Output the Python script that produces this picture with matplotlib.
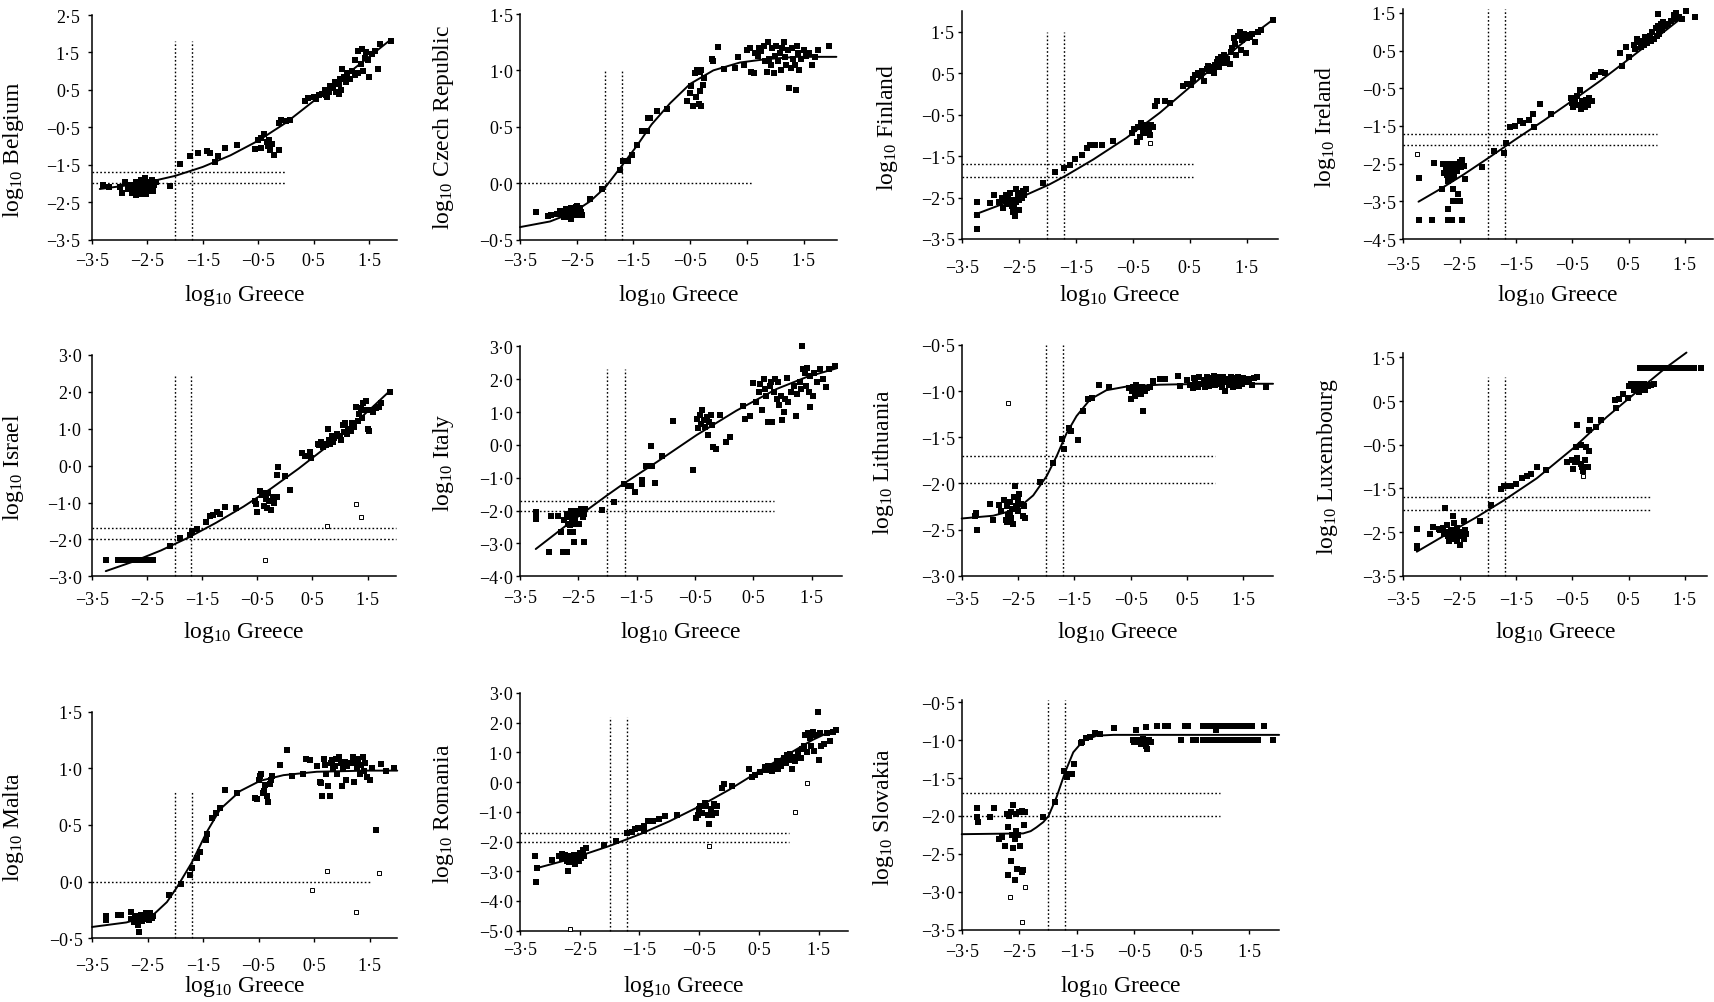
import matplotlib
matplotlib.use("Agg")
import matplotlib.pyplot as plt
from matplotlib.ticker import FuncFormatter, FixedLocator

plt.rcParams['font.family'] = ['Liberation Serif', 'DejaVu Serif']
plt.rcParams['mathtext.fontset'] = 'custom'
plt.rcParams['mathtext.rm'] = 'Liberation Serif'
plt.rcParams['mathtext.it'] = 'Liberation Serif:italic'
plt.rcParams['mathtext.bf'] = 'Liberation Serif:bold'

# ---------------------------------------------------------------- data
X_LABEL = "Greece"
X_TICKS = [-3.5, -2.5, -1.5, -0.5, 0.5, 1.5]
GUIDE_X = [-2.0, -1.7]

BELGIUM_PTS = [(-3.3,-2.05),(-3.2,-2.1),(-3.0,-2.1),(-2.95,-2.25),(-2.9,-1.95),(-2.85,-2.15),(-2.8,-2.05),(-2.78,-2.25),(-2.75,-2.2),(-2.72,-2.05),
 (-2.7,-1.95),(-2.7,-2.3),(-2.68,-2.15),(-2.65,-2.1),(-2.63,-2.28),(-2.62,-1.9),(-2.6,-2.0),(-2.6,-2.25),(-2.58,-2.15),(-2.55,-1.85),
 (-2.55,-2.05),(-2.52,-2.28),(-2.5,-2.2),(-2.5,-1.95),(-2.48,-2.1),(-2.45,-2.0),(-2.42,-1.9),(-2.4,-2.2),(-2.38,-2.05),(-2.35,-1.95),
 (-2.09,-2.08),(-1.91,-1.47),(-1.73,-1.26),(-1.58,-1.19),(-1.43,-1.14),(-1.37,-1.19),(-1.22,-1.28),(-1.28,-1.44),(-1.1,-1.05),(-0.89,-0.98),
 (-0.56,-1.08),(-0.5,-0.85),(-0.45,-0.8),(-0.45,-1.05),(-0.4,-0.68),(-0.35,-0.9),(-0.32,-1.0),(-0.3,-0.85),(-0.28,-1.1),(-0.25,-0.95),(-0.21,-1.23),(-0.12,-1.1),
 (-0.12,-0.38),(-0.08,-0.3),(0.0,-0.33),(0.07,-0.3),
 (0.35,0.2),(0.4,0.28),(0.5,0.3),(0.55,0.25),(0.6,0.35),(0.65,0.4),(0.7,0.5),(0.72,0.35),(0.75,0.3),(0.78,0.45),
 (0.8,0.6),(0.85,0.55),(0.88,0.7),(0.9,0.45),(0.95,0.65),(0.95,0.4),(0.98,0.8),(1.0,0.5),(1.02,1.05),(1.05,0.85),
 (1.08,0.7),(1.1,0.95),(1.15,0.8),(1.2,1.0),(1.25,0.9),(1.25,1.3),(1.3,1.55),(1.3,0.95),(1.35,1.2),(1.38,1.6),
 (1.4,1.0),(1.42,1.35),(1.45,1.5),(1.48,1.3),(1.5,0.85),(1.55,1.45),(1.6,1.55),(1.67,1.07),(1.7,1.72),(1.89,1.81)]
BELGIUM_OPEN = []
BELGIUM_FIT = [(-3.36,-2.15),(-3.0,-2.08),(-2.5,-1.97),(-2.0,-1.8),(-1.5,-1.56),(-1.0,-1.25),(-0.5,-0.86),(0.0,-0.38),(0.5,0.2),(1.0,0.8),(1.5,1.38),(1.89,1.84)]
BELGIUM_YTICKS = [-3.5, -2.5, -1.5, -0.5, 0.5, 1.5, 2.5]

CZECH_PTS = [(-3.22,-0.26),
 (-3.0,-0.29),(-2.95,-0.28),(-2.85,-0.27),(-2.8,-0.25),(-2.75,-0.28),(-2.7,-0.26),(-2.68,-0.23),(-2.65,-0.3),(-2.62,-0.25),(-2.6,-0.22),(-2.58,-0.27),(-2.55,-0.24),(-2.52,-0.21),(-2.5,-0.28),(-2.48,-0.25),(-2.45,-0.22),(-2.42,-0.26),(-2.4,-0.28),(-2.6,-0.32),(-2.72,-0.3),(-2.5,-0.2),
 (-2.26,-0.14),(-2.06,-0.05),
 (-1.74,0.12),(-1.68,0.2),(-1.59,0.2),(-1.53,0.25),(-1.44,0.34),(-1.35,0.46),(-1.26,0.46),(-1.24,0.58),(-1.21,0.58),(-1.09,0.64),(-0.9,0.66),
 (-0.55,0.73),(-0.5,0.8),(-0.48,0.86),(-0.45,0.68),(-0.42,0.98),(-0.4,0.76),(-0.38,1.0),(-0.35,0.7),(-0.33,0.82),(-0.3,0.68),(-0.32,0.99),(-0.28,0.87),(-0.25,0.93),(-0.3,1.0),
 (-0.12,1.1),(-0.09,1.08),(0.0,1.21),(0.09,1.01),
 (0.3,1.02),(0.35,1.12),(0.45,1.05),(0.5,1.18),(0.55,1.2),(0.58,0.99),(0.62,0.98),(0.65,1.15),(0.7,1.13),(0.72,1.2),(0.75,1.17),(0.8,1.22),(0.82,1.08),(0.85,0.99),(0.88,1.25),(0.9,1.1),(0.92,1.05),(0.95,1.2),(0.98,0.98),(1.0,1.13),(1.02,1.22),(1.05,1.08),(1.08,1.15),(1.1,1.0),(1.12,1.2),(1.15,1.25),(1.18,1.12),(1.2,1.05),(1.22,1.18),(1.25,0.84),(1.28,1.02),(1.3,1.2),(1.36,0.83),(1.32,1.1),(1.35,1.05),(1.38,1.22),(1.4,1.15),(1.42,1.0),(1.45,1.1),(1.5,1.18),(1.55,1.13),(1.6,1.15),(1.65,1.05),(1.7,1.12),(1.75,1.18),(1.95,1.22)]
CZECH_OPEN = []
CZECH_FIT = [(-3.5,-0.39),(-2.97,-0.34),(-2.56,-0.26),(-2.26,-0.16),(-2.0,-0.04),(-1.71,0.15),(-1.44,0.33),(-1.18,0.52),(-0.85,0.71),(-0.5,0.88),(-0.09,1.0),(0.38,1.07),(0.85,1.1),(1.38,1.12),(2.08,1.12)]
CZECH_YTICKS = [-0.5, 0.0, 0.5, 1.0, 1.5]

FINLAND_PTS = [(-3.24,-2.61),(-3.24,-2.91),(-3.23,-3.27),(-3.0,-2.63),(-2.94,-2.43),
 (-2.85,-2.6),(-2.8,-2.5),(-2.78,-2.75),(-2.75,-2.55),(-2.72,-2.45),(-2.7,-2.65),(-2.68,-2.5),(-2.65,-2.4),(-2.62,-2.7),(-2.6,-2.55),(-2.6,-2.85),(-2.57,-2.95),(-2.55,-2.3),(-2.55,-2.6),(-2.52,-2.45),(-2.5,-2.8),(-2.5,-2.55),(-2.47,-2.4),(-2.45,-2.5),(-2.42,-2.35),(-2.4,-2.45),(-2.38,-2.3),(-2.65,-2.6),(-2.58,-2.75),
 (-2.07,-2.15),(-1.86,-1.89),(-1.7,-1.78),(-1.6,-1.72),(-1.51,-1.58),(-1.39,-1.48),(-1.31,-1.3),(-1.25,-1.24),(-1.16,-1.23),(-1.04,-1.23),(-0.84,-1.14),
 (-0.52,-0.94),(-0.48,-0.85),(-0.43,-1.16),(-0.4,-0.8),(-0.38,-1.05),(-0.35,-0.7),(-0.32,-0.9),(-0.3,-0.8),(-0.28,-0.95),(-0.25,-0.75),(-0.22,-0.85),(-0.2,-1.0),(-0.18,-0.75),(-0.15,-0.8),
 (-0.11,-0.29),(-0.08,-0.17),(0.07,-0.17),(0.15,-0.21),
 (0.39,0.2),(0.45,0.25),(0.52,0.22),
 (0.55,0.35),(0.6,0.45),(0.65,0.5),(0.7,0.42),(0.72,0.55),(0.75,0.3),(0.8,0.6),(0.82,0.68),(0.85,0.55),(0.88,0.65),(0.9,0.6),(0.92,0.5),(0.95,0.7),(0.98,0.78),(1.0,0.85),(1.02,0.65),(1.05,0.9),(1.08,0.8),(1.1,0.95),(1.12,0.75),(1.15,0.85),(1.2,0.72),(1.22,1.0),(1.25,1.1),(1.28,1.35),(1.3,1.2),(1.32,0.95),(1.35,1.4),(1.38,1.5),(1.4,1.05),(1.42,1.3),(1.45,1.45),(1.48,0.98),(1.5,1.35),(1.52,1.42),(1.55,1.38),(1.6,1.45),(1.65,1.25),(1.7,1.5),(1.75,1.55),(1.97,1.79)]
FINLAND_OPEN = [(-0.2,-1.19)]
FINLAND_FIT = [(-3.27,-2.91),(-2.77,-2.65),(-2.36,-2.43),(-1.97,-2.19),(-1.67,-1.97),(-1.19,-1.58),(-0.61,-1.06),(-0.02,-0.45),(0.56,0.23),(1.15,0.92),(1.62,1.44),(1.97,1.8)]
FINLAND_YTICKS = [-3.5, -2.5, -1.5, -0.5, 0.5, 1.5]

IRELAND_PTS = [(-3.23,-2.87),(-3.23,-4.0),(-2.99,-4.0),(-2.7,-4.0),(-2.64,-4.0),(-2.46,-4.0),
 (-2.95,-2.48),(-2.82,-3.16),(-2.7,-3.7),(-2.61,-3.5),(-2.55,-3.5),(-2.49,-3.5),(-2.52,-3.3),(-2.61,-3.16),
 (-2.8,-2.5),(-2.75,-2.6),(-2.72,-2.8),(-2.7,-2.5),(-2.68,-2.7),(-2.65,-2.9),(-2.65,-2.55),(-2.62,-2.75),(-2.6,-2.5),(-2.6,-2.85),(-2.58,-2.65),(-2.55,-2.7),(-2.52,-2.5),(-2.5,-2.45),(-2.48,-2.6),(-2.45,-2.4),(-2.42,-2.55),(-2.4,-2.9),(-2.7,-2.95),(-2.78,-2.75),
 (-2.11,-2.59),(-1.89,-2.16),(-1.72,-2.23),(-1.68,-1.96),
 (-1.61,-1.54),(-1.52,-1.5),(-1.43,-1.37),(-1.37,-1.41),(-1.26,-1.34),(-1.2,-1.19),(-1.17,-1.54),(-1.07,-0.92),(-0.88,-1.19),
 (-0.52,-0.75),(-0.5,-0.9),(-0.48,-1.0),(-0.45,-0.8),(-0.42,-0.7),(-0.4,-0.95),(-0.36,-0.54),(-0.35,-1.05),(-0.32,-0.85),(-0.3,-0.9),(-0.28,-1.0),(-0.25,-0.8),(-0.22,-0.95),(-0.2,-0.75),(-0.15,-0.85),
 (-0.13,-0.21),(-0.1,-0.15),(0.02,-0.06),(0.08,-0.1),
 (0.35,0.45),(0.38,0.1),(0.46,0.59),(0.51,0.32),
 (0.6,0.65),(0.62,0.55),(0.65,0.8),(0.7,0.72),(0.72,0.6),(0.75,0.75),(0.78,0.65),(0.8,0.85),(0.82,0.7),(0.85,0.8),(0.88,0.9),(0.9,0.75),(0.92,1.0),(0.95,0.82),(0.98,1.1),(1.0,0.9),(1.02,1.15),(1.05,0.95),(1.03,1.47),(1.08,1.2),(1.1,1.05),(1.12,1.25),(1.15,1.15),(1.2,1.2),(1.25,1.3),(1.3,1.45),(1.32,1.35),(1.35,1.5),(1.4,1.4),(1.45,1.35),(1.53,1.54),(1.68,1.38)]
IRELAND_OPEN = [(-3.26,-2.25)]
IRELAND_FIT = [(-3.23,-3.51),(-2.85,-3.18),(-2.43,-2.79),(-1.98,-2.34),(-1.5,-1.85),(-1.0,-1.35),(-0.5,-0.83),(0.0,-0.3),(0.5,0.27),(1.0,0.85),(1.47,1.4)]
IRELAND_YTICKS = [-4.5, -3.5, -2.5, -1.5, -0.5, 0.5, 1.5]

ISRAEL_PTS = [(-3.25,-2.57),(-3.02,-2.57),(-2.95,-2.57),(-2.88,-2.57),(-2.8,-2.57),(-2.75,-2.57),(-2.7,-2.57),(-2.65,-2.57),(-2.6,-2.57),(-2.55,-2.57),(-2.5,-2.57),(-2.45,-2.57),(-2.4,-2.57),
 (-2.09,-2.19),(-1.9,-1.97),(-1.73,-1.87),(-1.69,-1.78),(-1.6,-1.72),(-1.43,-1.52),(-1.36,-1.37),(-1.3,-1.34),(-1.24,-1.26),(-1.18,-1.31),(-1.09,-1.13),(-0.88,-1.15),
 (-0.55,-0.95),(-0.52,-1.05),(-0.5,-1.25),(-0.45,-0.7),(-0.42,-0.8),(-0.4,-0.75),(-0.38,-1.1),(-0.35,-0.9),(-0.32,-1.15),(-0.3,-0.75),(-0.28,-0.95),(-0.25,-1.2),(-0.22,-0.85),(-0.2,-1.0),(-0.15,-0.85),
 (-0.15,-0.24),(-0.12,-0.04),(0.0,-0.27),(0.09,-0.65),
 (0.32,0.34),(0.36,0.25),(0.45,0.38),(0.48,0.2),
 (0.6,0.6),(0.62,0.55),(0.65,0.65),(0.7,0.5),(0.72,0.6),(0.75,0.55),(0.78,1.0),(0.8,0.7),(0.82,0.6),(0.85,0.8),(0.88,0.65),(0.9,0.75),(0.95,0.85),(1.0,0.8),(1.02,0.7),(1.05,1.1),(1.08,0.9),(1.1,1.15),(1.12,0.85),(1.15,1.0),(1.2,0.95),(1.22,1.15),(1.25,1.05),(1.3,1.6),(1.32,1.2),(1.35,1.4),(1.38,1.55),(1.4,1.3),(1.42,1.7),(1.45,1.5),(1.48,1.75),(1.5,1.0),(1.52,0.95),(1.55,1.5),(1.6,1.45),(1.65,1.55),(1.7,1.6),(1.75,1.7),(1.9,2.0)]
ISRAEL_OPEN = [(-0.36,-2.57),(0.76,-1.64),(1.3,-1.04),(1.39,-1.4)]
ISRAEL_FIT = [(-3.25,-2.86),(-2.75,-2.6),(-2.25,-2.3),(-1.75,-1.95),(-1.25,-1.55),(-0.75,-1.11),(-0.25,-0.62),(0.25,-0.08),(0.75,0.5),(1.25,1.13),(1.6,1.6),(1.9,2.02)]
ISRAEL_YTICKS = [-3.0, -2.0, -1.0, 0.0, 1.0, 2.0, 3.0]

ITALY_PTS = [(-3.23,-2.03),(-3.23,-2.15),(-3.23,-2.27),
 (-3.0,-3.27),(-2.96,-2.17),(-2.84,-2.17),(-2.8,-2.66),(-2.76,-3.27),(-2.7,-3.27),(-2.64,-2.66),(-2.59,-2.66),(-2.57,-2.96),(-2.41,-2.96),
 (-2.75,-2.3),(-2.7,-2.1),(-2.68,-2.4),(-2.65,-2.2),(-2.62,-2.0),(-2.6,-2.35),(-2.58,-2.15),(-2.55,-2.25),(-2.52,-2.0),(-2.5,-2.1),(-2.48,-2.4),(-2.45,-1.95),(-2.42,-2.2),(-2.4,-2.1),(-2.38,-1.95),(-2.65,-2.45),(-2.55,-2.4),
 (-2.09,-1.97),(-1.89,-1.75),(-1.72,-1.2),(-1.64,-1.24),(-1.59,-1.24),(-1.53,-1.42),(-1.41,-1.06),(-1.41,-1.19),(-1.34,-0.63),(-1.24,-0.63),(-1.25,-0.04),(-1.18,-1.16),(-1.07,-0.33),(-0.87,0.74),
 (-0.53,-0.76),
 (-0.47,0.8),(-0.45,0.5),(-0.42,0.9),(-0.4,0.65),(-0.38,1.05),(-0.35,0.75),(-0.33,0.55),(-0.3,0.85),(-0.28,0.3),(-0.25,0.7),(-0.22,0.9),(-0.2,0.6),(-0.19,-0.07),(-0.13,-0.14),(-0.07,0.91),(0.03,0.1),(0.1,0.23),
 (0.33,1.17),(0.36,0.79),(0.44,0.89),
 (0.49,1.88),(0.55,1.3),(0.6,1.6),(0.62,1.85),(0.65,1.05),(0.68,2.0),(0.7,1.7),(0.72,1.5),(0.75,0.7),(0.78,1.8),(0.8,1.9),(0.82,0.7),(0.85,1.6),(0.88,2.0),(0.9,1.4),(0.92,1.9),(0.95,1.2),(0.98,1.5),(1.0,0.75),(1.02,1.0),(1.05,1.4),(1.08,2.05),(1.1,1.3),(1.15,1.6),(1.2,1.8),(1.25,1.55),(1.24,0.87),(1.3,1.9),(1.32,1.7),(1.35,2.3),(1.33,3.0),(1.38,2.2),(1.4,1.8),(1.42,2.35),(1.45,1.6),(1.48,2.1),(1.47,1.16),(1.52,1.5),(1.55,2.2),(1.6,1.9),(1.65,2.3),(1.7,2.0),(1.75,1.75),(1.8,2.3),(1.9,2.41)]
ITALY_OPEN = []
ITALY_FIT = [(-3.23,-3.17),(-2.64,-2.36),(-2.01,-1.54),(-1.73,-1.19),(-1.16,-0.53),(-0.47,0.3),(0.21,1.04),(0.9,1.7),(1.41,2.06),(1.93,2.33)]
ITALY_YTICKS = [-4.0, -3.0, -2.0, -1.0, 0.0, 1.0, 2.0, 3.0]

LITHUANIA_PTS = [(-3.25,-2.32),(-3.23,-2.51),(-3.26,-2.35),(-3.0,-2.22),(-2.94,-2.4),(-2.83,-2.23),
 (-2.8,-2.3),(-2.75,-2.18),(-2.72,-2.4),(-2.7,-2.25),(-2.68,-2.35),(-2.65,-2.2),(-2.65,-2.32),(-2.62,-2.38),(-2.6,-2.28),(-2.58,-2.44),(-2.57,-2.15),(-2.55,-2.03),(-2.53,-2.25),(-2.5,-2.18),(-2.5,-2.3),(-2.48,-2.12),(-2.45,-2.22),(-2.42,-2.35),(-2.4,-2.25),(-2.38,-2.38),(-2.7,-2.42),
 (-2.11,-1.98),(-1.88,-1.78),(-1.72,-1.52),(-1.68,-1.63),(-1.59,-1.4),(-1.55,-1.43),(-1.43,-1.53),(-1.34,-1.22),(-1.26,-1.09),(-1.18,-1.07),(-1.07,-0.93),(-0.88,-0.95),
 (-0.52,-0.97),(-0.5,-1.08),(-0.48,-1.0),(-0.45,-0.95),(-0.42,-1.05),(-0.4,-0.93),(-0.38,-1.0),(-0.35,-0.98),(-0.32,-1.03),(-0.3,-0.95),(-0.28,-1.22),(-0.25,-1.0),(-0.2,-0.97),(-0.15,-0.95),
 (-0.11,-0.89),(0.02,-0.87),(0.11,-0.87),(0.35,-0.84),(0.38,-0.94),
 (0.5,-0.88),(0.55,-0.93),(0.6,-0.97),(0.62,-0.86),(0.65,-0.9),(0.7,-0.95),(0.72,-0.85),(0.75,-0.92),(0.8,-0.88),(0.82,-0.96),(0.85,-0.85),(0.88,-0.9),(0.9,-0.94),(0.92,-0.86),(0.95,-0.89),(0.98,-0.84),(1.0,-0.93),(1.02,-0.88),(1.05,-0.85),(1.08,-0.92),(1.1,-0.88),(1.12,-0.96),(1.15,-0.85),(1.18,-1.0),(1.2,-0.9),(1.22,-0.87),(1.25,-0.93),(1.28,-0.85),(1.3,-0.89),(1.32,-0.95),(1.35,-0.86),(1.38,-0.91),(1.4,-0.85),(1.42,-0.94),(1.45,-0.88),(1.48,-0.92),(1.5,-0.86),(1.55,-0.9),(1.6,-0.87),(1.65,-0.93),(1.7,-0.86),(1.75,-0.85),(1.9,-0.95)]
LITHUANIA_OPEN = [(-2.67,-1.13)]
LITHUANIA_FIT = [(-3.5,-2.38),(-2.94,-2.35),(-2.52,-2.28),(-2.23,-2.13),(-1.99,-1.92),(-1.81,-1.7),(-1.64,-1.46),(-1.46,-1.27),(-1.22,-1.09),(-0.93,-0.99),(-0.57,-0.95),(0.02,-0.93),(0.91,-0.92),(2.03,-0.92)]
LITHUANIA_YTICKS = [-3.0, -2.5, -2.0, -1.5, -1.0, -0.5]

LUXEMBOURG_PTS = [(-3.26,-2.42),(-3.26,-2.81),(-3.25,-2.87),(-3.03,-2.55),(-2.97,-2.39),(-2.86,-2.42),(-2.76,-1.96),
 (-2.85,-2.45),(-2.8,-2.4),(-2.78,-2.55),(-2.75,-2.5),(-2.72,-2.35),(-2.7,-2.6),(-2.68,-2.7),(-2.65,-2.45),(-2.62,-2.55),(-2.6,-2.3),(-2.6,-2.65),(-2.58,-2.5),(-2.55,-2.7),(-2.55,-2.4),(-2.52,-2.6),(-2.5,-2.8),(-2.48,-2.55),(-2.45,-2.5),(-2.42,-2.65),(-2.4,-2.45),(-2.38,-2.55),(-2.62,-2.13),(-2.42,-2.25),
 (-2.13,-2.24),(-1.94,-1.88),
 (-1.77,-1.52),(-1.72,-1.44),(-1.67,-1.44),(-1.58,-1.45),(-1.49,-1.4),(-1.4,-1.27),(-1.31,-1.21),(-1.24,-1.17),(-1.13,-1.02),(-0.96,-1.08),
 (-0.6,-0.9),(-0.5,-0.85),(-0.48,-1.05),(-0.45,-0.9),(-0.42,-0.8),(-0.44,-0.56),(-0.35,-0.95),(-0.35,-0.5),(-0.32,-1.0),(-0.3,-1.1),(-0.28,-0.85),(-0.25,-0.55),(-0.22,-1.0),(-0.2,-0.65),(-0.41,-0.06),
 (-0.2,-0.16),(-0.19,0.07),(-0.07,-0.1),(0.02,0.07),
 (0.26,0.53),(0.28,0.35),(0.33,0.55),(0.41,0.66),(0.49,0.58),
 (0.5,0.85),(0.55,0.9),(0.6,0.75),(0.62,0.8),(0.65,0.88),(0.68,0.7),(0.7,0.9),(0.72,0.78),(0.75,0.82),(0.78,0.88),(0.8,0.75),(0.85,0.85),(0.9,0.87),(0.95,0.88),
 (0.70,1.25),(0.74,1.25),(0.78,1.25),(0.82,1.25),(0.86,1.25),(0.90,1.25),(0.94,1.25),(0.98,1.25),(1.02,1.25),(1.06,1.25),(1.10,1.25),(1.14,1.25),(1.18,1.25),
 (1.22,1.25),(1.26,1.25),(1.30,1.25),(1.34,1.25),(1.38,1.25),(1.42,1.25),(1.46,1.25),(1.50,1.25),(1.54,1.25),(1.58,1.25),(1.62,1.25),(1.66,1.25),(1.78,1.25)]
LUXEMBOURG_OPEN = [(-0.3,-1.21)]
LUXEMBOURG_FIT = [(-3.26,-2.95),(-2.73,-2.55),(-2.2,-2.16),(-1.72,-1.78),(-1.13,-1.27),(-0.48,-0.58),(0.11,0.13),(0.7,0.77),(1.17,1.27),(1.53,1.61)]
LUXEMBOURG_YTICKS = [-3.5, -2.5, -1.5, -0.5, 0.5, 1.5]

MALTA_PTS = [(-3.25,-0.3),(-3.25,-0.34),(-3.04,-0.29),(-2.97,-0.29),(-2.8,-0.27),
 (-2.8,-0.33),(-2.75,-0.36),(-2.72,-0.3),(-2.7,-0.34),(-2.68,-0.38),(-2.65,-0.32),(-2.62,-0.29),(-2.6,-0.35),(-2.58,-0.3),(-2.55,-0.33),(-2.52,-0.28),(-2.5,-0.31),(-2.48,-0.34),(-2.45,-0.28),(-2.42,-0.32),(-2.4,-0.3),
 (-2.66,-0.44),
 (-2.11,-0.12),(-1.9,-0.02),(-1.73,0.06),(-1.69,0.12),(-1.61,0.21),(-1.56,0.26),(-1.44,0.37),(-1.42,0.42),(-1.34,0.56),(-1.26,0.61),(-1.2,0.65),(-1.1,0.81),(-0.88,0.78),
 (-0.56,0.74),(-0.52,0.73),(-0.5,0.9),(-0.48,0.93),(-0.45,0.95),(-0.42,0.78),(-0.4,0.8),(-0.38,0.85),(-0.35,0.76),(-0.32,0.7),(-0.3,0.86),(-0.28,0.9),(-0.25,0.93),
 (-0.12,1.03),(0.01,1.16),(0.1,0.93),(0.31,0.95),(0.36,1.08),(0.43,1.07),
 (0.55,1.02),(0.6,0.88),(0.62,0.87),(0.65,0.76),(0.68,1.08),(0.7,1.03),(0.72,0.95),(0.75,0.84),(0.78,0.76),(0.8,1.05),(0.82,1.07),(0.85,1.0),(0.88,1.02),(0.9,1.08),(0.92,0.95),(0.95,1.1),(0.98,1.05),(1.0,0.84),(1.02,1.0),(1.05,1.06),(1.08,0.9),(1.1,1.02),(1.15,1.05),(1.2,1.1),(1.22,0.88),(1.25,1.05),(1.28,1.0),(1.3,1.08),(1.32,0.95),(1.35,1.03),(1.38,1.1),(1.4,0.98),(1.42,1.05),(1.45,0.92),(1.5,0.9),(1.55,1.0),(1.7,1.04),(1.8,0.98),(1.95,1.0),
 (1.62,0.46)]
MALTA_OPEN = [(0.47,-0.07),(0.74,0.09),(1.26,-0.27),(1.68,0.08)]
MALTA_FIT = [(-3.5,-0.4),(-2.88,-0.36),(-2.39,-0.29),(-2.15,-0.18),(-1.97,-0.05),(-1.7,0.17),(-1.43,0.44),(-1.19,0.64),(-0.83,0.8),(-0.47,0.89),(-0.05,0.94),(0.55,0.97),(1.45,0.98),(2.0,0.98)]
MALTA_YTICKS = [-0.5, 0.0, 0.5, 1.0, 1.5]

ROMANIA_PTS = [(-3.25,-2.5),(-3.22,-2.89),(-3.23,-3.35),(-2.97,-2.61),(-2.8,-2.42),(-2.69,-2.98),
 (-2.85,-2.5),(-2.8,-2.55),(-2.75,-2.45),(-2.72,-2.65),(-2.7,-2.5),(-2.68,-2.7),(-2.65,-2.55),(-2.62,-2.6),(-2.6,-2.45),(-2.58,-2.75),(-2.55,-2.5),(-2.52,-2.65),(-2.5,-2.4),(-2.48,-2.55),(-2.45,-2.3),(-2.42,-2.5),(-2.4,-2.2),
 (-2.09,-2.11),(-1.89,-1.97),(-1.71,-1.71),(-1.63,-1.69),(-1.57,-1.58),(-1.52,-1.56),(-1.43,-1.64),(-1.42,-1.47),(-1.35,-1.3),(-1.27,-1.3),(-1.18,-1.24),(-1.07,-1.13),(-0.87,-1.11),
 (-0.55,-1.2),(-0.52,-1.1),(-0.5,-0.9),(-0.48,-0.8),(-0.45,-1.05),(-0.4,-0.7),(-0.38,-0.8),(-0.35,-1.1),(-0.33,-1.41),(-0.3,-0.9),(-0.28,-1.1),(-0.25,-0.75),(-0.22,-1.05),(-0.2,-0.8),
 (-0.12,-0.21),(-0.09,-0.06),(0.05,-0.12),
 (0.34,0.44),(0.38,0.16),(0.44,0.24),(0.52,0.33),
 (0.6,0.5),(0.62,0.4),(0.65,0.55),(0.68,0.45),(0.7,0.5),(0.72,0.38),(0.75,0.55),(0.78,0.48),(0.8,0.7),(0.82,0.45),(0.85,0.6),(0.88,0.55),(0.9,0.7),(0.92,0.8),(0.95,0.65),(0.98,0.9),(1.0,0.75),(1.02,0.95),(1.05,0.45),(1.08,0.8),(1.1,0.7),(1.12,0.85),(1.15,1.0),(1.2,0.8),(1.22,1.1),(1.25,1.2),(1.28,1.6),(1.3,1.0),(1.32,1.65),(1.35,1.5),(1.38,1.2),(1.4,1.7),(1.42,1.05),(1.45,1.6),(1.49,2.35),(1.5,0.76),(1.52,1.65),(1.55,1.2),(1.6,1.3),(1.65,1.65),(1.7,1.4),(1.75,1.7),(1.8,1.75)]
ROMANIA_OPEN = [(-2.66,-4.95),(-0.33,-2.14),(1.3,-0.03),(1.1,-1.02)]
ROMANIA_FIT = [(-3.23,-2.9),(-2.66,-2.59),(-1.99,-2.14),(-1.5,-1.76),(-1.0,-1.32),(-0.5,-0.82),(0.0,-0.26),(0.5,0.36),(1.0,0.95),(1.4,1.42),(1.8,1.8)]
ROMANIA_YTICKS = [-5.0, -4.0, -3.0, -2.0, -1.0, 0.0, 1.0, 2.0, 3.0]

SLOVAKIA_PTS = [(-3.24,-1.9),(-3.23,-2.01),(-3.21,-2.08),(-3.0,-2.01),(-2.94,-1.9),
 (-2.85,-2.3),(-2.8,-2.28),(-2.75,-2.4),(-2.72,-1.97),(-2.7,-2.15),(-2.68,-2.0),(-2.65,-1.95),(-2.62,-2.25),(-2.6,-1.85),(-2.6,-2.42),(-2.58,-2.3),(-2.55,-1.97),(-2.55,-2.2),(-2.52,-2.25),(-2.5,-1.95),(-2.48,-2.4),(-2.45,-1.93),(-2.42,-2.12),(-2.4,-1.95),
 (-2.7,-2.78),(-2.64,-2.6),(-2.57,-2.85),(-2.54,-2.7),(-2.46,-2.74),(-2.43,-2.71),
 (-2.08,-2.01),(-1.88,-1.81),(-1.72,-1.4),(-1.67,-1.49),(-1.62,-1.44),(-1.59,-1.45),(-1.55,-1.31),(-1.43,-1.04),(-1.4,-1.02),(-1.33,-0.97),(-1.27,-0.96),(-1.19,-0.9),(-1.1,-0.92),(-0.86,-0.84),
 (-0.47,-0.87),(-0.52,-1.0),(-0.5,-1.02),(-0.45,-1.0),(-0.42,-1.03),(-0.4,-1.0),(-0.38,-1.05),(-0.35,-0.98),(-0.32,-1.02),(-0.3,-1.08),(-0.28,-1.12),(-0.25,-1.0),(-0.2,-1.02),(-0.3,-0.83),
 (-0.11,-0.81),(0.03,-0.81),(0.09,-0.81),(0.38,-0.81),(0.44,-0.81),(0.70,-0.81),(0.75,-0.81),(0.80,-0.81),(0.85,-0.81),(0.90,-0.81),(0.95,-0.81),(1.00,-0.81),(1.05,-0.81),(1.10,-0.81),
 (1.15,-0.81),(1.20,-0.81),(1.25,-0.81),(1.30,-0.81),(1.35,-0.81),(1.40,-0.81),(1.45,-0.81),(1.50,-0.81),(1.55,-0.81),(1.75,-0.81),
 (0.32,-1.0),(0.53,-1.0),(0.58,-1.0),(0.70,-1.0),(0.75,-1.0),(0.80,-1.0),(0.85,-1.0),(0.90,-1.0),(0.95,-1.0),(1.00,-1.0),(1.05,-1.0),(1.10,-1.0),(1.15,-1.0),(1.20,-1.0),
 (1.25,-1.0),(1.30,-1.0),(1.35,-1.0),(1.40,-1.0),(1.45,-1.0),(1.50,-1.0),(1.55,-1.0),(1.60,-1.0),(1.65,-1.0),(1.92,-1.0),
 (0.92,-0.86)]
SLOVAKIA_OPEN = [(-2.66,-3.07),(-2.4,-2.94),(-2.45,-3.4)]
SLOVAKIA_FIT = [(-3.5,-2.24),(-2.43,-2.23),(-2.3,-2.2),(-2.2,-2.15),(-2.08,-2.08),(-1.99,-2.0),(-1.85,-1.75),(-1.7,-1.42),(-1.56,-1.16),(-1.39,-1.01),(-1.15,-0.94),(-0.86,-0.93),(2.02,-0.93)]
SLOVAKIA_YTICKS = [-3.5, -3.0, -2.5, -2.0, -1.5, -1.0, -0.5]

# ---------------------------------------------------------------- layout
# px = (x of -3.5, px per x unit, y px of ylim bottom, y px of ylim top)
PANELS = [
    dict(name="Belgium", pts=BELGIUM_PTS, opn=BELGIUM_OPEN, fit=BELGIUM_FIT, yt=BELGIUM_YTICKS,
         ylim=(-3.5, 2.5), xmax=2.0, px=(92.0, 55.4, 240.5, 16.0), vtop=1.8, hy=[-1.7, -2.0], hx=0.0,
         ylab=(14, 150), xlab_y=295, xoff=18.5, ypad=8.0),
    dict(name="Czech Republic", pts=CZECH_PTS, opn=CZECH_OPEN, fit=CZECH_FIT, yt=CZECH_YTICKS,
         ylim=(-0.5, 1.5), xmax=2.09, px=(520.0, 56.7, 240.5, 15.0), vtop=1.0, hy=[0.0], hx=0.6,
         ylab=(444, 128), xlab_y=295, xoff=19.0, ypad=2.7),
    dict(name="Finland", pts=FINLAND_PTS, opn=FINLAND_OPEN, fit=FINLAND_FIT, yt=FINLAND_YTICKS,
         ylim=(-3.5, 2.0), xmax=2.05, px=(961.7, 57.0, 240.0, 12.0), vtop=1.5, hy=[-1.7, -2.0], hx=0.55,
         ylab=(887, 127), xlab_y=295, xoff=26.0, ypad=2.7),
    dict(name="Ireland", pts=IRELAND_PTS, opn=IRELAND_OPEN, fit=IRELAND_FIT, yt=IRELAND_YTICKS,
         ylim=(-4.5, 1.6), xmax=2.0, px=(1403.3, 56.3, 240.0, 10.2), vtop=1.6, hy=[-1.7, -2.0], hx=1.0,
         ylab=(1325, 127), xlab_y=295, xoff=23.0, ypad=3.3),
    dict(name="Israel", pts=ISRAEL_PTS, opn=ISRAEL_OPEN, fit=ISRAEL_FIT, yt=ISRAEL_YTICKS,
         ylim=(-3.0, 3.0), xmax=2.02, px=(92.0, 55.1, 577.3, 356.0), vtop=2.45, hy=[-1.7, -2.0], hx=2.02,
         ylab=(14, 467), xlab_y=633, xoff=20.5, ypad=6.3),
    dict(name="Italy", pts=ITALY_PTS, opn=ITALY_OPEN, fit=ITALY_FIT, yt=ITALY_YTICKS,
         ylim=(-4.0, 3.0), xmax=2.02, px=(520.0, 58.3, 577.3, 347.3), vtop=2.3, hy=[-1.7, -2.0], hx=0.85,
         ylab=(443, 463), xlab_y=633, xoff=19.0, ypad=2.7),
    dict(name="Lithuania", pts=LITHUANIA_PTS, opn=LITHUANIA_OPEN, fit=LITHUANIA_FIT, yt=LITHUANIA_YTICKS,
         ylim=(-3.0, -0.5), xmax=2.03, px=(961.7, 56.3, 576.7, 346.0), vtop=-0.5, hy=[-1.7, -2.0], hx=1.0,
         ylab=(883, 462), xlab_y=633, xoff=21.0, ypad=2.7),
    dict(name="Luxembourg", pts=LUXEMBOURG_PTS, opn=LUXEMBOURG_OPEN, fit=LUXEMBOURG_FIT, yt=LUXEMBOURG_YTICKS,
         ylim=(-3.5, 1.6), xmax=1.9, px=(1403.3, 56.3, 576.7, 354.0), vtop=1.05, hy=[-1.7, -2.0], hx=0.9,
         ylab=(1327, 467), xlab_y=633, xoff=21.0, ypad=3.3),
    dict(name="Malta", pts=MALTA_PTS, opn=MALTA_OPEN, fit=MALTA_FIT, yt=MALTA_YTICKS,
         ylim=(-0.5, 1.5), xmax=2.0, px=(92.0, 55.5, 939.3, 712.7), vtop=0.8, hy=[0.0], hx=1.55,
         ylab=(14, 827), xlab_y=987, xoff=24.5, ypad=5.3),
    dict(name="Romania", pts=ROMANIA_PTS, opn=ROMANIA_OPEN, fit=ROMANIA_FIT, yt=ROMANIA_YTICKS,
         ylim=(-5.0, 3.0), xmax=2.0, px=(520.0, 59.7, 931.7, 694.0), vtop=2.2, hy=[-1.7, -2.0], hx=1.0,
         ylab=(443, 814), xlab_y=987, xoff=16.5, ypad=3.3),
    dict(name="Slovakia", pts=SLOVAKIA_PTS, opn=SLOVAKIA_OPEN, fit=SLOVAKIA_FIT, yt=SLOVAKIA_YTICKS,
         ylim=(-3.5, -0.47), xmax=2.02, px=(961.7, 57.5, 930.7, 701.0), vtop=-0.47, hy=[-1.7, -2.0], hx=1.0,
         ylab=(884, 817), xlab_y=987, xoff=19.0, ypad=2.7),
]

W, H = 1714, 1003
TICK_FS = 13
LAB_FS = 17
PT = 100 / 72.0


def fmt(v, pos):
    s = f"{abs(v):.1f}".replace(".", "\u00b7")
    return ("\u2212" + s) if v < -1e-9 else s


fig = plt.figure(figsize=(W / 100, H / 100), dpi=100)
fig.patch.set_facecolor("white")

for p in PANELS:
    left, ppu, bot, top = p["px"]
    xmax = p["xmax"]
    right = left + ppu * (xmax + 3.5)
    ax = fig.add_axes([left / W, 1 - bot / H, (right - left) / W, (bot - top) / H])
    ax.set_xlim(-3.5, xmax)
    ax.set_ylim(*p["ylim"])
    ax.set_facecolor("none")
    for s in ("top", "right"):
        ax.spines[s].set_visible(False)
    for s in ("left", "bottom"):
        ax.spines[s].set_linewidth(1.1)
        ax.spines[s].set_color("black")

    # guide lines
    dot = dict(color="black", lw=1.0, dashes=(1.2, 1.6), clip_on=False, zorder=1)
    for xv in GUIDE_X:
        ax.plot([xv, xv], [p["ylim"][0], p["vtop"]], **dot)
    for yv in p["hy"]:
        ax.plot([-3.5, p["hx"]], [yv, yv], **dot)

    # fitted curve
    cx = [a for a, b in p["fit"]]
    cy = [b for a, b in p["fit"]]
    ax.plot(cx, cy, "-", color="black", lw=1.4, clip_on=False, zorder=2,
            solid_joinstyle="round", solid_capstyle="round")

    # data
    xs = [a for a, b in p["pts"]]
    ys = [b for a, b in p["pts"]]
    ax.plot(xs, ys, "s", color="black", ms=3.9, mew=0, clip_on=False, zorder=3)
    if p["opn"]:
        ox = [a for a, b in p["opn"]]
        oy = [b for a, b in p["opn"]]
        ax.plot(ox, oy, "s", mfc="white", mec="black", ms=3.4, mew=0.7, clip_on=False, zorder=4)

    # ticks
    ax.xaxis.set_major_locator(FixedLocator(X_TICKS))
    ax.yaxis.set_major_locator(FixedLocator(p["yt"]))
    ax.xaxis.set_major_formatter(FuncFormatter(fmt))
    ax.yaxis.set_major_formatter(FuncFormatter(fmt))
    em = TICK_FS * PT
    ax.tick_params(axis="both", direction="out", length=3, width=1.0, labelsize=TICK_FS, colors="black")
    ax.tick_params(axis="x", pad=max(0.5, (p["xoff"] - 4.2 - 0.34 * em) / PT))
    ax.tick_params(axis="y", pad=p["ypad"] / PT)

    # labels
    ax.set_ylabel("log$_{\\mathregular{10}}$ " + p["name"], fontsize=LAB_FS)
    ax.yaxis.set_label_coords((p["ylab"][0] - left) / (right - left), (bot - p["ylab"][1]) / (bot - top))
    ax.yaxis.label.set_va("center")
    ax.set_xlabel("log$_{\\mathregular{10}}$ " + X_LABEL, fontsize=LAB_FS)
    ax.xaxis.set_label_coords(0.5, (bot - p["xlab_y"]) / (bot - top))
    ax.xaxis.label.set_va("center")

fig.savefig("out.png", dpi=100, facecolor="white")
